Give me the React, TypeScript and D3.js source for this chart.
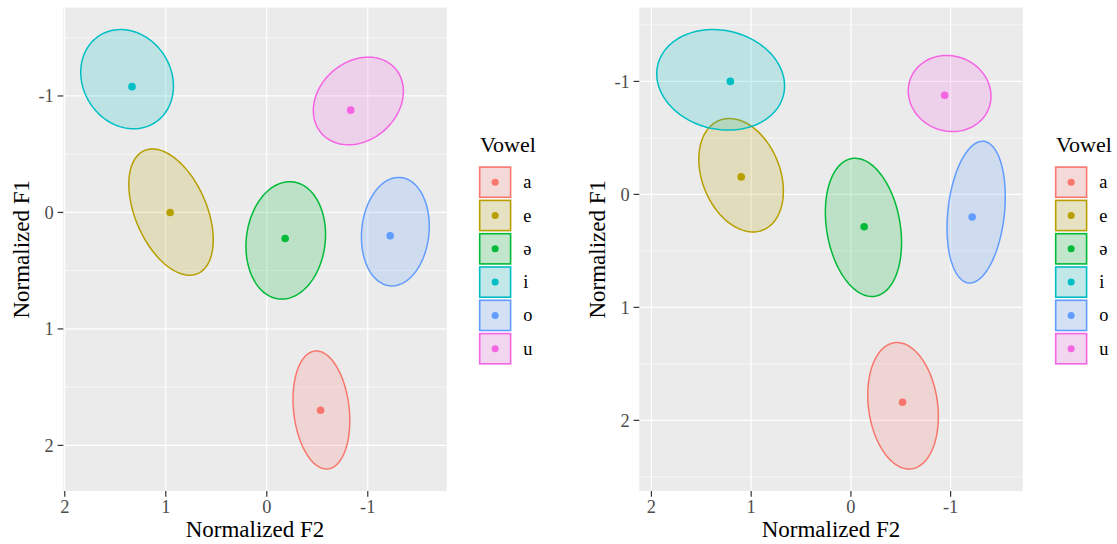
import React from 'react';
import * as d3 from 'd3';

const vowels = ['a', 'e', 'ə', 'i', 'o', 'u'];
const colors = ['#F8766D', '#B79F00', '#00BA38', '#00BFC4', '#619CFF', '#F564E3'];

// Left plot: vowel means
const leftMeanF2 = [-0.533, 0.957, -0.182, 1.334, -1.222, -0.831];
const leftMeanF1 = [1.698, 0.0, 0.224, -1.08, 0.2, -0.878];
// Left plot: ellipse (robust centre, half extents, correlation)
const leftEllF2 = [-0.541, 0.948, -0.188, 1.383, -1.273, -0.907];
const leftEllF1 = [1.696, -0.003, 0.24, -1.144, 0.165, -0.957];
const leftEllSdF2 = [0.281, 0.418, 0.394, 0.459, 0.336, 0.446];
const leftEllSdF1 = [0.507, 0.542, 0.504, 0.426, 0.466, 0.376];
const leftEllCorr = [-0.18, -0.44, 0.1, -0.14, 0.1, 0.22];

// Right plot
const rightMeanF2 = [-0.518, 1.1, -0.133, 1.209, -1.216, -0.94];
const rightMeanF1 = [1.84, -0.155, 0.286, -1.0, 0.2, -0.878];
const rightEllF2 = [-0.523, 1.101, -0.126, 1.306, -1.256, -0.99];
const rightEllF1 = [1.871, -0.17, 0.292, -1.014, 0.157, -0.893];
const rightEllSdF2 = [0.354, 0.424, 0.382, 0.641, 0.292, 0.415];
const rightEllSdF1 = [0.56, 0.502, 0.612, 0.445, 0.627, 0.337];
const rightEllCorr = [-0.17, -0.28, -0.22, -0.12, 0.22, -0.07];

const xTitle = 'Normalized F2';
const yTitle = 'Normalized F1';
const legendTitle = 'Vowel';

const FONT = "'Liberation Serif', 'Times New Roman', serif";

type PanelData = {
  meanF2: number[];
  meanF1: number[];
  ellF2: number[];
  ellF1: number[];
  sdF2: number[];
  sdF1: number[];
  corr: number[];
};

const leftData: PanelData = {
  meanF2: leftMeanF2, meanF1: leftMeanF1, ellF2: leftEllF2, ellF1: leftEllF1,
  sdF2: leftEllSdF2, sdF1: leftEllSdF1, corr: leftEllCorr,
};
const rightData: PanelData = {
  meanF2: rightMeanF2, meanF1: rightMeanF1, ellF2: rightEllF2, ellF1: rightEllF1,
  sdF2: rightEllSdF2, sdF1: rightEllSdF1, corr: rightEllCorr,
};

function ellipsePoints(d: PanelData, i: number): [number, number][] {
  const n = 120;
  const pts: [number, number][] = [];
  const r = d.corr[i];
  const s = Math.sqrt(1 - r * r);
  for (let k = 0; k < n; k++) {
    const t = (2 * Math.PI * k) / n;
    pts.push([
      d.ellF2[i] + d.sdF2[i] * Math.cos(t),
      d.ellF1[i] + d.sdF1[i] * (r * Math.cos(t) + s * Math.sin(t)),
    ]);
  }
  return pts;
}

function Plot({ d, ox }: { d: PanelData; ox: number }) {
  const pL = 63.3, pR = 446.7, pT = 7.6, pB = 491;
  const ells = vowels.map((_, i) => ellipsePoints(d, i));
  const all = ells.flat();
  const xe = d3.extent(all, (p) => p[0]) as [number, number];
  const ye = d3.extent(all, (p) => p[1]) as [number, number];
  const xp = (xe[1] - xe[0]) * 0.05;
  const yp = (ye[1] - ye[0]) * 0.05;
  const x = d3.scaleLinear().domain([xe[1] + xp, xe[0] - xp]).range([pL, pR]);
  const y = d3.scaleLinear().domain([ye[0] - yp, ye[1] + yp]).range([pT, pB]);
  const xMaj = x.ticks(4);
  const yMaj = y.ticks(4);
  const minorOf = (maj: number[], dom: number[]) => {
    const lo = Math.min(dom[0], dom[1]);
    const hi = Math.max(dom[0], dom[1]);
    const step = maj[1] - maj[0];
    const res: number[] = [];
    for (let v = maj[0] - step / 2; v <= maj[maj.length - 1] + step; v += step) {
      if (v >= lo && v <= hi) res.push(v);
    }
    return res;
  };
  const xMin = minorOf(xMaj, x.domain());
  const yMin = minorOf(yMaj, y.domain());
  const line = d3.line<[number, number]>().x((p) => x(p[0])).y((p) => y(p[1])).curve(d3.curveLinearClosed);

  const keyX = 479.3, keyW = 31.7, keyTop = 166.7, keyStep = 33.3, keyH = 31;

  return (
    <g transform={`translate(${ox},0)`}>
      <rect x={pL} y={pT} width={pR - pL} height={pB - pT} fill="#EBEBEB" />
      <clipPath id={`clip${ox}`}>
        <rect x={pL} y={pT} width={pR - pL} height={pB - pT} />
      </clipPath>
      <g clipPath={`url(#clip${ox})`}>
        {xMin.map((v) => (
          <line key={'xm' + v} x1={x(v)} x2={x(v)} y1={pT} y2={pB} stroke="#fff" strokeWidth={0.6} />
        ))}
        {yMin.map((v) => (
          <line key={'ym' + v} x1={pL} x2={pR} y1={y(v)} y2={y(v)} stroke="#fff" strokeWidth={0.6} />
        ))}
        {xMaj.map((v) => (
          <line key={'xM' + v} x1={x(v)} x2={x(v)} y1={pT} y2={pB} stroke="#fff" strokeWidth={1.2} />
        ))}
        {yMaj.map((v) => (
          <line key={'yM' + v} x1={pL} x2={pR} y1={y(v)} y2={y(v)} stroke="#fff" strokeWidth={1.2} />
        ))}
        {ells.map((pts, i) => (
          <path key={'e' + i} d={line(pts) || ''} fill={colors[i]} fillOpacity={0.2} stroke={colors[i]} strokeWidth={1.5} />
        ))}
        {vowels.map((_, i) => (
          <circle key={'p' + i} cx={x(d.meanF2[i])} cy={y(d.meanF1[i])} r={3.8} fill={colors[i]} />
        ))}
      </g>
      {/* axes */}
      {xMaj.map((v) => (
        <g key={'xt' + v}>
          <line x1={x(v)} x2={x(v)} y1={pB} y2={pB + 5.7} stroke="#333333" strokeWidth={1.2} />
          <text x={x(v)} y={pB + 21.5} textAnchor="middle" fontFamily={FONT} fontSize={18.4} fill="#4D4D4D">
            {d3.format('d')(v).replace('−', '-')}
          </text>
        </g>
      ))}
      {yMaj.map((v) => (
        <g key={'yt' + v}>
          <line x1={pL - 5.7} x2={pL} y1={y(v)} y2={y(v)} stroke="#333333" strokeWidth={1.2} />
          <text x={pL - 9.5} y={y(v)} dy="0.35em" textAnchor="end" fontFamily={FONT} fontSize={18.4} fill="#4D4D4D">
            {d3.format('d')(v).replace('−', '-')}
          </text>
        </g>
      ))}
      <text x={(pL + pR) / 2} y={537} textAnchor="middle" fontFamily={FONT} fontSize={23} fill="#000">
        {xTitle}
      </text>
      <text transform={`translate(28.8,${(pT + pB) / 2}) rotate(-90)`} textAnchor="middle" fontFamily={FONT} fontSize={23} fill="#000">
        {yTitle}
      </text>
      {/* legend */}
      <text x={480} y={151.7} fontFamily={FONT} fontSize={22} fill="#000">
        {legendTitle}
      </text>
      {vowels.map((v, i) => {
        const ky = keyTop + i * keyStep;
        return (
          <g key={'lg' + i}>
            <rect x={keyX} y={ky} width={keyW} height={keyH} fill="#F2F2F2" />
            <rect x={keyX + 0.4} y={ky + 0.4} width={keyW - 0.8} height={keyH - 0.8} fill={colors[i]} fillOpacity={0.2} stroke={colors[i]} strokeWidth={1.6} />
            <circle cx={keyX + keyW / 2} cy={ky + keyH / 2} r={3.5} fill={colors[i]} />
            <text x={523.3} y={ky + keyH / 2} dy="0.33em" fontFamily={FONT} fontSize={18.4} fill="#000">
              {v}
            </text>
          </g>
        );
      })}
    </g>
  );
}

export default function App() {
  return (
    <svg width={1117} height={544} style={{ position: 'absolute', left: 0, top: 0, background: '#fff' }}>
      <rect width={1117} height={544} fill="#fff" />
      <Plot d={leftData} ox={0} />
      <Plot d={rightData} ox={576} />
    </svg>
  );
}
